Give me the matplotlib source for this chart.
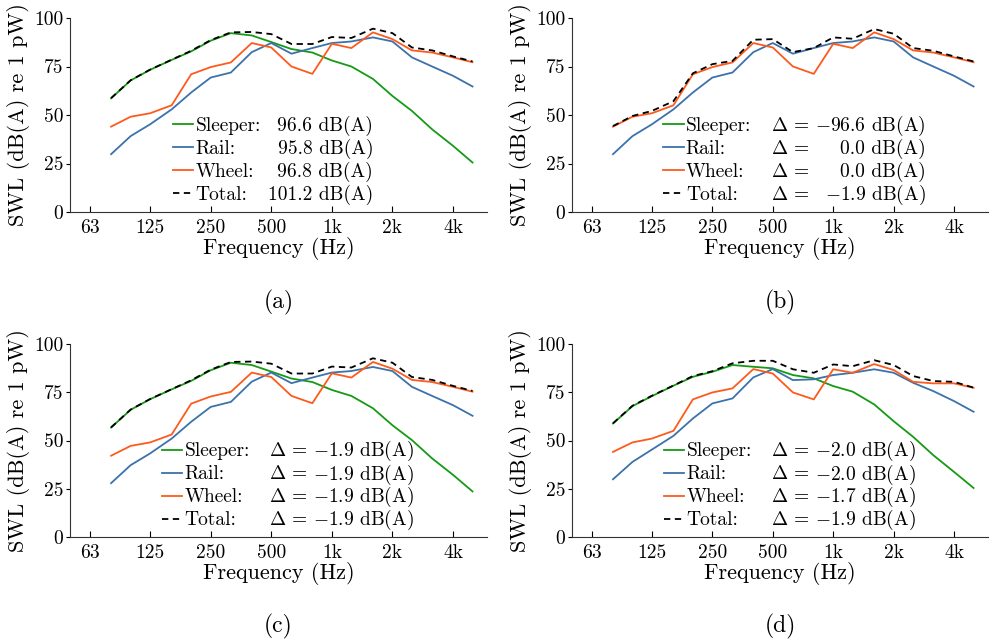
import matplotlib
matplotlib.use("Agg")
import matplotlib.pyplot as plt

plt.rcParams['font.family'] = 'serif'
plt.rcParams['font.serif'] = ['cmr10', 'DejaVu Serif']
plt.rcParams['mathtext.fontset'] = 'cm'
plt.rcParams['axes.unicode_minus'] = False
plt.rcParams['font.size'] = 14

# 1/3 octave band centre frequencies (Hz)
freqs = [80, 100, 125, 160, 200, 250, 315, 400, 500, 630, 800, 1000,
         1250, 1600, 2000, 2500, 3150, 4000, 5000]

xtick_pos = [63, 125, 250, 500, 1000, 2000, 4000]
xtick_labels = ['63', '125', '250', '500', '1k', '2k', '4k']
ytick_pos = [0, 25, 50, 75, 100]

# (a) reference case
sleeper_a = [58.6, 67.8, 73.3, 78.4, 82.8, 88.3, 92.2, 91.0, 87.6, 84.0, 82.2, 78.1,
             75.0, 68.6, 59.8, 52.1, 42.6, 34.1, 25.5]
rail_a = [29.8, 39.1, 45.2, 52.9, 61.6, 69.3, 71.9, 82.4, 87.1, 81.6, 84.5, 87.1,
          87.9, 90.0, 87.9, 79.7, 75.0, 70.2, 64.7]
wheel_a = [44.0, 49.1, 50.9, 55.0, 71.0, 74.7, 77.1, 87.1, 84.8, 75.0, 71.2, 86.7,
           84.5, 92.6, 89.1, 83.3, 82.2, 79.7, 77.2]
total_a = [58.7, 67.9, 73.4, 78.5, 83.1, 88.6, 92.6, 92.8, 91.7, 86.6, 86.6, 90.2,
           89.7, 94.5, 92.2, 84.8, 83.3, 80.2, 77.6]

# (b) no sleeper
rail_b = rail_a
wheel_b = wheel_a
total_b = [44.3, 49.5, 52.1, 57.1, 71.5, 76.2, 77.9, 88.8, 89.1, 82.4, 84.5, 90.0,
           89.3, 94.3, 91.9, 84.5, 83.1, 80.2, 77.6]

# (c) all sources -1.9 dB
sleeper_c = [56.7, 65.9, 71.4, 76.5, 80.9, 86.4, 90.3, 89.1, 85.7, 82.1, 80.3, 76.2,
             73.1, 66.7, 57.9, 50.2, 40.7, 32.2, 23.6]
rail_c = [27.9, 37.2, 43.3, 51.0, 59.7, 67.4, 70.0, 80.5, 85.2, 79.7, 82.6, 85.2,
          86.0, 88.1, 86.0, 77.8, 73.1, 68.3, 62.8]
wheel_c = [42.1, 47.2, 49.0, 53.1, 69.1, 72.8, 75.2, 85.2, 82.9, 73.1, 69.3, 84.8,
           82.6, 90.7, 87.2, 81.4, 80.3, 77.8, 75.3]
total_c = [56.8, 66.0, 71.5, 76.6, 81.2, 86.7, 90.7, 90.9, 89.8, 84.7, 84.7, 88.3,
           87.8, 92.6, 90.3, 82.9, 81.4, 78.3, 75.7]

# (d) frequency dependent change
sleeper_d = [58.8, 67.8, 73.0, 78.4, 83.0, 85.6, 89.1, 88.2, 87.4, 83.9, 82.2, 78.2,
             75.3, 68.7, 60.0, 51.9, 42.4, 33.7, 25.4]
rail_d = [29.9, 38.9, 45.3, 52.4, 61.4, 69.2, 71.8, 82.7, 87.0, 81.3, 81.7, 83.9,
          85.1, 86.9, 85.1, 79.9, 75.6, 70.4, 64.9]
wheel_d = [44.1, 49.0, 51.0, 55.0, 71.3, 74.9, 77.0, 87.0, 84.7, 74.9, 71.3, 86.9,
           85.1, 89.6, 86.5, 80.4, 79.6, 79.6, 77.3]
total_d = [58.9, 68.0, 73.2, 78.5, 83.4, 85.9, 90.0, 91.3, 91.3, 86.9, 85.1, 89.4,
           88.5, 91.6, 89.1, 83.4, 80.8, 80.4, 77.4]

names = ['Sleeper:', 'Rail:', 'Wheel:', 'Total:']
values_a = ['96.6 dB(A)', '95.8 dB(A)', '96.8 dB(A)', '101.2 dB(A)']
values_b = ['$-$96.6 dB(A)', '0.0 dB(A)', '0.0 dB(A)', '$-$1.9 dB(A)']
values_c = ['$-$1.9 dB(A)', '$-$1.9 dB(A)', '$-$1.9 dB(A)', '$-$1.9 dB(A)']
values_d = ['$-$2.0 dB(A)', '$-$2.0 dB(A)', '$-$1.7 dB(A)', '$-$1.9 dB(A)']

c_sleeper = '#159a15'
c_rail = '#3b72ab'
c_wheel = '#fd5a1c'

W, H = 992, 643
fig = plt.figure(figsize=(W / 100, H / 100), dpi=100)


def make_ax(left, top, right, bottom):
    return fig.add_axes([left / W, 1 - bottom / H, (right - left) / W, (bottom - top) / H])


panels = [
    (make_ax(70, 18, 487, 212), sleeper_a, rail_a, wheel_a, total_a, values_a, False,
     0.247, None, 0.727, '(a)'),
    (make_ax(572, 18, 988, 212), None, rail_b, wheel_b, total_b, values_b, True,
     0.219, 0.478, 0.851, '(b)'),
    (make_ax(70, 344, 487, 537), sleeper_c, rail_c, wheel_c, total_c, values_c, True,
     0.22, 0.477, 0.825, '(c)'),
    (make_ax(572, 344, 988, 537), sleeper_d, rail_d, wheel_d, total_d, values_d, True,
     0.221, 0.478, 0.827, '(d)'),
]

lw = 1.3
for ax, sl, ra, wh, to, vals, delta, x_leg, x_delta, x_end, cap in panels:
    h = []
    if sl is not None:
        h.append(ax.plot(freqs, sl, color=c_sleeper, lw=lw)[0])
    else:
        # sleeper removed: legend entry only
        h.append(ax.plot([], [], color=c_sleeper, lw=lw)[0])
    h.append(ax.plot(freqs, ra, color=c_rail, lw=lw)[0])
    h.append(ax.plot(freqs, wh, color=c_wheel, lw=lw)[0])
    h.append(ax.plot(freqs, to, color='black', lw=lw, linestyle=(0, (3.5, 2.5)))[0])

    ax.set_xscale('log')
    ax.set_xlim(50, 5900)
    ax.set_ylim(0, 100)
    ax.set_xticks(xtick_pos)
    ax.set_xticklabels(xtick_labels)
    ax.minorticks_off()
    ax.set_yticks(ytick_pos)
    ax.tick_params(axis='x', direction='in', length=4, width=0.8, pad=5)
    ax.tick_params(axis='y', direction='out', length=3, width=0.8, pad=2)
    for s in ['top', 'right']:
        ax.spines[s].set_visible(False)
    for s in ['left', 'bottom']:
        ax.spines[s].set_linewidth(0.8)
        ax.spines[s].set_color('#333333')
    ax.set_xlabel('Frequency (Hz)', fontsize=16, labelpad=0)
    ax.set_ylabel('SWL (dB(A) re 1 pW)', fontsize=16, labelpad=3)
    ax.text(0.5, -0.466, cap, transform=ax.transAxes, ha='center', va='center', fontsize=17)

    leg = ax.legend(h, names, loc='upper left', bbox_to_anchor=(x_leg, 0.49),
                    frameon=False, borderpad=0, borderaxespad=0, handlelength=1.05,
                    handletextpad=0.12, labelspacing=0.26, fontsize=14)
    fig.canvas.draw()
    inv = ax.transAxes.inverted()
    for t, v in zip(leg.get_texts(), vals):
        bb = t.get_window_extent()
        yc = inv.transform(((bb.x0 + bb.x1) / 2, (bb.y0 + bb.y1) / 2))[1]
        if delta:
            ax.text(x_delta, yc, r'$\Delta\,=$', transform=ax.transAxes, ha='left', va='center')
        ax.text(x_end, yc, v, transform=ax.transAxes, ha='right', va='center')

fig.savefig('out.png', dpi=100)
